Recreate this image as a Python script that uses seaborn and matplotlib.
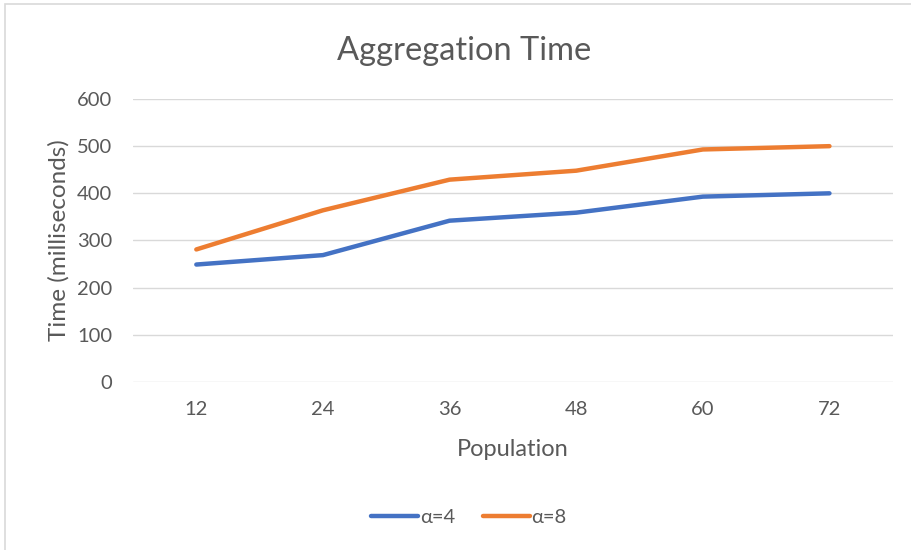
import matplotlib
matplotlib.use("Agg")
import matplotlib.pyplot as plt
import seaborn as sns
import pandas as pd
from matplotlib.patches import Rectangle

population = ["12", "24", "36", "48", "60", "72"]
alpha4 = [249, 269, 342, 359, 393, 400]
alpha8 = [281, 364, 429, 448, 493, 500]
series_names = ["α=4", "α=8"]
y_ticks = [0, 100, 200, 300, 400, 500, 600]

df = pd.DataFrame({
    "Population": population * 2,
    "Time": alpha4 + alpha8,
    "Series": [series_names[0]] * len(population) + [series_names[1]] * len(population),
})

sns.set_theme(style="white")
plt.rcParams["font.family"] = ["Lato", "DejaVu Sans"]
gray = "#595959"

fig = plt.figure(figsize=(9.11, 5.5), dpi=100)
ax = fig.add_axes([0.146, 0.3055, 0.834, 0.5145])

sns.lineplot(data=df, x="Population", y="Time", hue="Series",
             palette=["#4472C4", "#ED7D31"], linewidth=3.2, ax=ax,
             sort=False, legend=True)
for ln in ax.lines:
    ln.set_solid_capstyle("round")

ax.set_xlim(-0.5, 5.5)
ax.set_ylim(0, 600)
ax.set_yticks(y_ticks)
ax.grid(axis="y", color="#D9D9D9", linewidth=1)
ax.grid(axis="x", visible=False)
for s in ax.spines.values():
    s.set_visible(False)
ax.tick_params(axis="both", length=0, labelsize=14.5, colors=gray, pad=14)
ax.tick_params(axis="y", pad=15)
ax.set_xlabel("Population", fontsize=17, color=gray, labelpad=15)
ax.set_ylabel("Time (milliseconds)", fontsize=17.5, color=gray, labelpad=5)
fig.text(0.51, 0.908, "Aggregation Time", ha="center", va="center",
         fontsize=23.5, color=gray)

leg = ax.legend(loc="center", ncol=2, frameon=False, fontsize=14.5,
                handlelength=2.3, handletextpad=0.1, columnspacing=1.4)
for t in leg.get_texts():
    t.set_color(gray)
for h in leg.get_lines():
    h.set_linewidth(3.2)
    h.set_solid_capstyle("round")
leg.set_bbox_to_anchor((0.515, 0.06), transform=fig.transFigure)

fig.patches.append(Rectangle((0.005, -0.01), 1.1, 1.0025, transform=fig.transFigure,
                             fill=False, edgecolor="#D9D9D9", linewidth=1.2))

fig.savefig("out.png", dpi=100)
